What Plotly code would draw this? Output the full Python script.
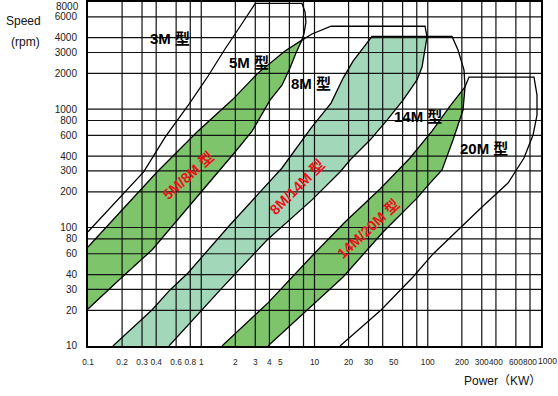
import numpy as np
import plotly.graph_objects as go

# ---------------- axis values ----------------
x_ticks = [0.1, 0.2, 0.3, 0.4, 0.6, 0.8, 1, 2, 3, 4, 5, 10, 20, 30, 50, 100, 200, 300, 400, 600, 800, 1000]
x_tick_text = ["0.1", "0.2", "0.3", "0.4", "0.6", "0.8", "1", "2", "3", "4", "5", "10", "20", "30",
               "50", "100", "200", "300", "400", "600", "800", "1000"]
x_grid = [0.2, 0.3, 0.4, 0.6, 0.8, 1, 2, 3, 4, 6, 8, 10, 20, 30, 40, 60, 80, 100, 200, 300, 400, 600, 800]
y_ticks = [10, 20, 30, 40, 60, 80, 100, 200, 300, 400, 600, 800, 1000, 2000, 3000, 4000, 6000, 8000]
x_min, x_max = 0.1, 1000
y_min, y_max = 10, 8000

# ---------------- belt regions (power kW, speed rpm) ----------------
# 5M: left boundary (bottom -> top), right boundary (top -> bottom)
m5_left_kw = [0.1, 0.17, 0.31, 0.48, 0.78, 1.15, 1.6, 2.3, 3.0]
m5_left_rpm = [92, 160, 295, 580, 1100, 1900, 3150, 5300, 7800]
m5_right_kw = [7.75, 8.25, 8.4, 8.1, 7.75, 6.86, 6.08, 5.16, 4.05, 2.81, 1.99, 1.41, 0.80, 0.367, 0.192, 0.1]
m5_right_rpm = [7800, 6600, 5400, 4400, 3820, 2970, 2220, 1590, 1190, 650, 434, 294, 155, 64.6, 36.8, 20.5]

# 8M
m8_left_kw = [0.1, 0.192, 0.407, 0.917, 1.87, 3.17, 5.49, 7.75, 9.5, 14.0]
m8_left_rpm = [68.5, 135, 294, 639, 1190, 2010, 3090, 3820, 4300, 5000]
m8_right_kw = [94.6, 98.5, 94.6, 89, 80.4, 60.5, 43.7, 30.9, 20.6, 16.8, 9.5, 3.81, 1.556, 0.519]
m8_right_rpm = [5000, 4050, 3150, 2260, 1760, 1190, 807, 547, 371, 294, 171, 78.4, 31.5, 10]

# 14M
m14_left_kw = [0.166, 0.367, 0.53, 0.764, 1.758, 3.656, 5.164, 9.31, 14.0, 17.9, 21.9, 32.2]
m14_left_rpm = [10, 20.1, 29.7, 41.3, 103, 220, 318, 691, 1123, 1826, 2541, 4100]
m14_right_kw = [163.8, 185, 209, 213.3, 204.8, 167.1, 133.6, 104.7, 80.4, 40.3, 17.9, 3.886]
m14_right_rpm = [4100, 3150, 2130, 1534, 981, 547, 306, 237, 177, 91.6, 38.2, 10]

# 20M
m20_left_kw = [1.525, 3.886, 9.5, 18.6, 37.9, 69.7, 109.0, 157.2, 213.3, 231.3]
m20_left_rpm = [10, 23.1, 57.5, 111.3, 211.3, 385.9, 652, 1060, 1534, 1862]
m20_right_kw = [867.6, 921.9, 921.9, 850, 707.7, 511.2, 301.3, 185, 111.3, 74.1, 38.7, 16.8]
m20_right_rpm = [1862, 1312, 890, 603, 386, 237, 148.9, 95.2, 59.8, 38.2, 20.1, 10]

# labels
region_labels = ["3M 型", "5M 型", "8M 型", "14M 型", "20M 型"]
region_label_kw = [0.53, 2.64, 9.3, 82, 314]
region_label_rpm = [3970, 2490, 1630, 873, 460]
overlap_labels = ["5M/8M 型", "8M/14M 型", "14M/20M 型"]
overlap_label_kw = [0.764, 7.08, 29.9]
overlap_label_rpm = [272, 218, 97]
overlap_label_angle = [-42, -45, -43]

DARK_GREEN = "#7dc46b"
TEAL = "#a3d7b9"
GRID = "#111111"
FONT = "Liberation Sans, Arial, Noto Sans CJK SC, sans-serif"


def arr(a):
    return np.asarray(a, dtype=float)


def band(upper_kw, upper_rpm, lower_kw, lower_rpm, cut):
    uk, ur = arr(upper_kw), arr(upper_rpm)
    lk, lr = arr(lower_kw), arr(lower_rpm)
    mu = ur <= cut
    ml = lr <= cut
    return np.concatenate([uk[mu], lk[ml]]), np.concatenate([ur[mu], lr[ml]])


fig = go.Figure()

# overlap fills
for (uk, ur, lk, lr, cut, col) in [
        (m8_left_kw, m8_left_rpm, m5_right_kw, m5_right_rpm, 3820, DARK_GREEN),
        (m14_left_kw, m14_left_rpm, m8_right_kw, m8_right_rpm, 4100, TEAL),
        (m20_left_kw, m20_left_rpm, m14_right_kw, m14_right_rpm, 1534, DARK_GREEN)]:
    bx, by = band(uk, ur, lk, lr, cut)
    fig.add_trace(go.Scatter(x=bx, y=by, fill="toself", fillcolor=col, mode="none",
                             hoverinfo="skip", showlegend=False))

# grid lines drawn above the fills (as in the reference)
gx, gy = [], []
for g in x_grid:
    gx += [g, g, None]
    gy += [y_min, y_max, None]
for g in y_ticks[1:-1]:
    gx += [x_min, x_max, None]
    gy += [g, g, None]
fig.add_trace(go.Scatter(x=gx, y=gy, mode="lines", line=dict(color=GRID, width=1.2),
                         hoverinfo="skip", showlegend=False))

# region outlines
for lk, lr, rk, rr in [(m5_left_kw, m5_left_rpm, m5_right_kw, m5_right_rpm),
                       (m8_left_kw, m8_left_rpm, m8_right_kw, m8_right_rpm),
                       (m14_left_kw, m14_left_rpm, m14_right_kw, m14_right_rpm),
                       (m20_left_kw, m20_left_rpm, m20_right_kw, m20_right_rpm)]:
    fig.add_trace(go.Scatter(x=list(lk) + list(rk), y=list(lr) + list(rr), mode="lines",
                             line=dict(color="black", width=1.3), hoverinfo="skip",
                             showlegend=False))

annotations = []
for t, xk, yr in zip(region_labels, region_label_kw, region_label_rpm):
    annotations.append(dict(x=np.log10(xk), y=np.log10(yr), xref="x", yref="y", text="<b>%s</b>" % t,
                            showarrow=False, xanchor="center", yanchor="middle",
                            font=dict(size=15, color="black", family=FONT)))
for t, xk, yr, a in zip(overlap_labels, overlap_label_kw, overlap_label_rpm, overlap_label_angle):
    annotations.append(dict(x=np.log10(xk), y=np.log10(yr), xref="x", yref="y", text="<b>%s</b>" % t,
                            textangle=a, showarrow=False, xanchor="center", yanchor="middle",
                            font=dict(size=14.5, color="#e8141b", family=FONT)))
# end-of-axis labels sit slightly inside the page, as in the reference
annotations.append(dict(x=np.log10(x_ticks[-1]), y=-0.045, xref="x", yref="paper",
                        text=x_tick_text[-1], showarrow=False, xshift=6,
                        xanchor="center", yanchor="middle",
                        font=dict(size=8.5, color="#222", family=FONT)))
annotations.append(dict(x=-0.0155, y=np.log10(y_ticks[-1]), xref="paper", yref="y",
                        text=str(y_ticks[-1]), showarrow=False, yshift=-4,
                        xanchor="right", yanchor="middle",
                        font=dict(size=10, color="#222", family=FONT)))
annotations += [
    dict(x=-0.1413, y=0.9448, xref="paper", yref="paper", text="Speed", showarrow=False,
         xanchor="center", yanchor="middle", font=dict(size=12, color="#111", family=FONT)),
    dict(x=-0.1369, y=0.8837, xref="paper", yref="paper", text="(rpm)", showarrow=False,
         xanchor="center", yanchor="middle", font=dict(size=12, color="#111", family=FONT)),
    dict(x=0.916, y=-0.1017, xref="paper", yref="paper", text="Power（KW）", showarrow=False,
         xanchor="center", yanchor="middle", font=dict(size=12, color="#111", family=FONT)),
]

fig.update_layout(
    width=558, height=396,
    margin=dict(l=88, r=17, t=2, b=50, pad=0),
    paper_bgcolor="white", plot_bgcolor="white",
    font=dict(family=FONT, color="#222"),
    annotations=annotations,
    xaxis=dict(type="log", range=[np.log10(x_min), np.log10(x_max)],
               tickvals=x_ticks[:-1], ticktext=x_tick_text[:-1], tickangle=0,
               showgrid=False, ticks="", zeroline=False, automargin=False,
               showline=True, mirror=True, linecolor="black", linewidth=2,
               ticklabeloverflow="allow",
               tickfont=dict(size=8.3, color="#222", family=FONT), ticklabelstandoff=7),
    yaxis=dict(type="log", range=[np.log10(y_min) - 0.0005, np.log10(y_max) + 0.0005],
               tickvals=y_ticks[:-1], ticktext=[str(v) for v in y_ticks[:-1]],
               showgrid=False, ticks="", zeroline=False, automargin=False,
               showline=True, mirror=True, linecolor="black", linewidth=2,
               ticklabeloverflow="allow",
               tickfont=dict(size=10, color="#222", family=FONT), ticklabelstandoff=7),
)

fig.write_html("out.html", config={"displayModeBar": False},
               post_script="document.body.style.margin='0px';")
